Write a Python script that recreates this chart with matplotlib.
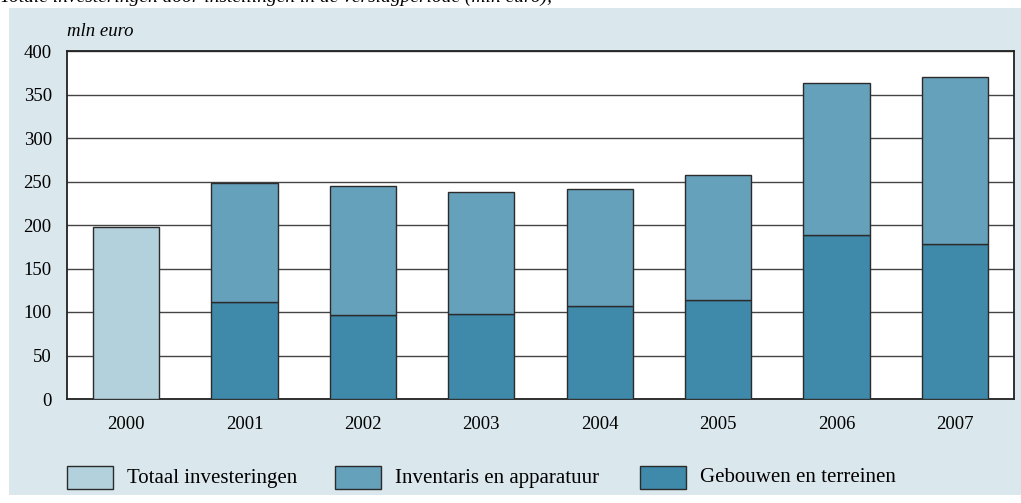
import numpy as np
import matplotlib.pyplot as plt
from matplotlib.patches import Rectangle

# Data (mln euro)
years = ['2000', '2001', '2002', '2003', '2004', '2005', '2006', '2007']
totaal = [198, 0, 0, 0, 0, 0, 0, 0]
gebouwen = [0, 112, 97, 98, 107, 114, 188, 178]
inventaris = [0, 136, 148, 140, 134, 143, 175, 192]
yticks = [0, 50, 100, 150, 200, 250, 300, 350, 400]

c_totaal = '#b3d1dc'
c_inventaris = '#66a1bc'
c_gebouwen = '#3f89aa'
c_bg = '#dae7ed'
edge = '#2b2b2b'

plt.rcParams['font.family'] = ['Liberation Serif', 'DejaVu Serif']

fig = plt.figure(figsize=(10.21, 5.03), dpi=100)
fig.patch.set_facecolor('white')

# light blue panel behind the chart
fig.patches.append(Rectangle((9 / 1021, 8 / 503), 1 - 9 / 1021, 487 / 503,
                             transform=fig.transFigure, facecolor=c_bg,
                             edgecolor='none', zorder=-10))

# clipped title line at the very top
fig.text(0.0, 1 - 2 / 503, 'Totale investeringen door instellingen in de verslagperiode (mln euro),',
         fontsize=14, style='italic', va='baseline', ha='left')

ax = fig.add_axes([67 / 1021, 104 / 503, (1014 - 67) / 1021, (399 - 51) / 503])
ax.set_facecolor('white')

x = np.arange(len(years))
w = 0.56
ax.bar(x[:1], totaal[:1], w, color=c_totaal, edgecolor=edge, linewidth=1, zorder=3)
ax.bar(x[1:], gebouwen[1:], w, color=c_gebouwen, edgecolor=edge, linewidth=1, zorder=3)
ax.bar(x[1:], inventaris[1:], w, bottom=gebouwen[1:], color=c_inventaris,
       edgecolor=edge, linewidth=1, zorder=3)

ax.set_xlim(-0.5, len(years) - 0.5)
ax.set_ylim(0, 400)
ax.set_yticks(yticks)
ax.set_xticks(x)
ax.set_xticklabels(years)
ax.tick_params(axis='both', length=0, labelsize=13.5)
ax.tick_params(axis='y', pad=11)
ax.tick_params(axis='x', pad=12)
ax.yaxis.grid(True, color='#444444', linewidth=1)
ax.set_axisbelow(True)
for s in ax.spines.values():
    s.set_color('#222222')
    s.set_linewidth(1.3)

fig.text(67 / 1021, 1 - 31 / 503, 'mln euro', fontsize=13.5, style='italic',
         ha='left', va='center')

# legend
items = [('Totaal investeringen', c_totaal, 67),
         ('Inventaris en apparatuur', c_inventaris, 335),
         ('Gebouwen en terreinen', c_gebouwen, 640)]
for label, col, px in items:
    fig.patches.append(Rectangle((px / 1021, (503 - 489) / 503), 46 / 1021, 23 / 503,
                                 transform=fig.transFigure, facecolor=col,
                                 edgecolor=edge, linewidth=1, zorder=2))
    fig.text((px + 60) / 1021, (503 - 478) / 503, label, fontsize=15,
             ha='left', va='center')

fig.savefig('out.png', dpi=100, facecolor=fig.get_facecolor())
